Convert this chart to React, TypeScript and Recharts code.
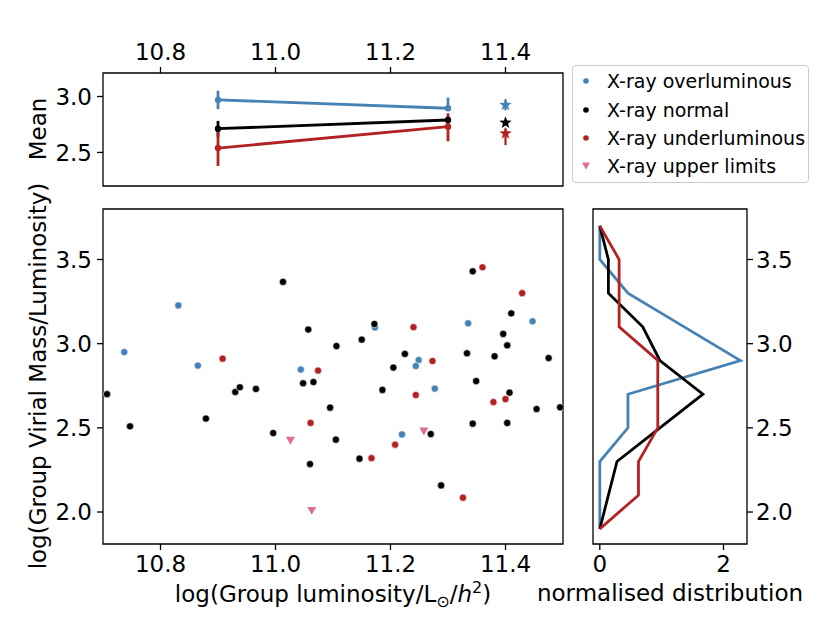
import { ScatterChart, Scatter, XAxis, YAxis, ErrorBar, ReferenceArea } from 'recharts';

const W = 830;
const H = 623;
const FONT = '"DejaVu Sans", sans-serif';

const BLUE = '#4682b4';
const BLACK = '#000000';
const RED = '#b22222';
const PINK = '#db7093';

// x axis (group luminosity) shared by top and main panels
const lumDomain = [10.7, 11.5];
const lumTicks = [10.8, 11.0, 11.2, 11.4];

// main scatter: log(virial mass / luminosity)
const mlDomain = [1.81, 3.8];
const mlTicks = [2.0, 2.5, 3.0, 3.5];

const overX = [10.737, 10.831, 10.865, 11.044, 11.173, 11.249, 11.244, 11.277, 11.22, 11.335, 11.447];
const overY = [2.95, 3.227, 2.87, 2.846, 3.096, 2.903, 2.867, 2.733, 2.461, 3.121, 3.133];

const normX = [
  10.707, 10.747, 10.879, 10.93, 10.938, 10.966, 10.996, 11.013, 11.057, 11.048, 11.066, 11.105,
  11.06, 11.106, 11.095, 11.172, 11.15, 11.186, 11.205, 11.225, 11.146, 11.27, 11.288, 11.343,
  11.41, 11.396, 11.403, 11.333, 11.381, 11.475, 11.349, 11.407, 11.454, 11.495, 11.343, 11.403,
];
const normY = [
  2.7, 2.509, 2.555, 2.713, 2.741, 2.731, 2.469, 3.367, 3.084, 2.765, 2.772, 2.43,
  2.285, 2.986, 2.62, 3.117, 3.024, 2.725, 2.858, 2.939, 2.317, 2.463, 2.158, 3.43,
  3.18, 3.058, 2.99, 2.943, 2.925, 2.915, 2.778, 2.709, 2.612, 2.622, 2.525, 2.529,
];

const underX = [10.908, 11.074, 11.061, 11.24, 11.273, 11.244, 11.167, 11.208, 11.326, 11.36, 11.429, 11.379, 11.4];
const underY = [2.911, 2.84, 2.529, 3.098, 2.897, 2.695, 2.32, 2.4, 2.085, 3.454, 3.3, 2.653, 2.671];

const limitX = [11.026, 11.063, 11.258];
const limitY = [2.426, 2.009, 2.481];

// top panel: binned means with error bars, and overall means (stars)
const meanDomain = [2.2, 3.21];
const meanTicks = [2.5, 3.0];
const meanX = [10.9, 11.3];
const overMean = [2.97, 2.895];
const overErr = [[0.083, 0.081], [0.025, 0.095]];
const normMean = [2.712, 2.79];
const normErr = [[0.07, 0.07], [0.03, 0.03]];
const underMean = [2.539, 2.73];
const underErr = [[0.16, 0.16], [0.13, 0.12]];

const starX = 11.4;
const starMean = [2.925, 2.766, 2.67];
const starErr = [[0.05, 0.05], [0.02, 0.02], [0.105, 0.045]];

// right panel: normalised distributions
const histBins = [3.7, 3.5, 3.3, 3.1, 2.9, 2.7, 2.5, 2.3, 2.1, 1.9];
const overHist = [0, 0, 0.455, 1.364, 2.273, 0.455, 0.455, 0, 0, 0];
const normHist = [0, 0.139, 0.139, 0.694, 0.972, 1.667, 0.972, 0.278, 0.139, 0];
const underHist = [0, 0.3125, 0.3125, 0.3125, 0.9375, 0.9375, 0.9375, 0.625, 0.625, 0];
const histDomain = [-0.11, 2.38];
const histTicks = [0, 2];

const toPoints = (xs: number[], ys: number[]) => xs.map((x, i) => ({ x, y: ys[i] }));
const toMeans = (ys: number[], errs: number[][]) => meanX.map((x, i) => ({ x, y: ys[i], err: errs[i] }));
const toHist = (ds: number[]) => histBins.map((y, i) => ({ x: ds[i], y }));

const legendItems = [
  { name: 'X-ray overluminous', color: BLUE, marker: 'dot' },
  { name: 'X-ray normal', color: BLACK, marker: 'dot' },
  { name: 'X-ray underluminous', color: RED, marker: 'dot' },
  { name: 'X-ray upper limits', color: PINK, marker: 'tri' },
];

const tick = { fill: '#000', fontSize: 23, fontFamily: FONT };
const tickLine = { stroke: '#000', strokeWidth: 1.3 };
const fmt = (v: number) => v.toFixed(1);

const dot = (color: string, r: number, edge?: boolean) => (p: any) =>
  p.cx == null ? <g /> : (
    <circle cx={p.cx} cy={p.cy} r={r} fill={color} stroke={edge ? '#fff' : 'none'} strokeWidth={0.6} />
  );

const triDown = (color: string) => (p: any) => {
  if (p.cx == null) return <g />;
  const s = 4.6;
  return (
    <path
      d={`M${p.cx - s},${p.cy - s * 0.75} L${p.cx + s},${p.cy - s * 0.75} L${p.cx},${p.cy + s * 0.95} Z`}
      fill={color}
    />
  );
};

const star = (color: string) => (p: any) => {
  if (p.cx == null) return <g />;
  const pts: string[] = [];
  for (let k = 0; k < 10; k++) {
    const r = k % 2 === 0 ? 6.5 : 2.7;
    const a = -Math.PI / 2 + (k * Math.PI) / 5;
    pts.push(`${p.cx + r * Math.cos(a)},${p.cy + r * Math.sin(a)}`);
  }
  return <polygon points={pts.join(' ')} fill={color} />;
};

const none = () => <g />;

const layer: React.CSSProperties = { position: 'absolute', left: 0, top: 0 };

function MeanPanel() {
  const groups = [
    { data: toMeans(overMean, overErr), color: BLUE },
    { data: toMeans(normMean, normErr), color: BLACK },
    { data: toMeans(underMean, underErr), color: RED },
  ];
  const stars = [BLUE, BLACK, RED].map((c, i) => ({ color: c, data: [{ x: starX, y: starMean[i], err: starErr[i] }] }));
  return (
    <div style={layer}>
      <ScatterChart width={W} height={H} margin={{ top: 33, right: 267, bottom: 437, left: 43 }}>
        <XAxis
          type="number" dataKey="x" orientation="top" domain={lumDomain} ticks={lumTicks}
          tickFormatter={fmt} allowDataOverflow height={40} axisLine={false}
          tick={tick} tickLine={tickLine} tickSize={6} tickMargin={7}
        />
        <YAxis
          type="number" dataKey="y" domain={meanDomain} ticks={meanTicks} tickFormatter={fmt}
          allowDataOverflow width={60} axisLine={false} tick={tick} tickLine={tickLine} tickSize={6} tickMargin={5}
        />
        <ReferenceArea x1={lumDomain[0]} x2={lumDomain[1]} y1={meanDomain[0]} y2={meanDomain[1]} fill="none" stroke="#000" strokeWidth={1.3} />
        {groups.map((g, i) => (
          <Scatter
            key={i} data={g.data} fill={g.color} line={{ stroke: g.color, strokeWidth: 2.8 }}
            shape={dot(g.color, 3.2)} isAnimationActive={false}
          >
            <ErrorBar dataKey="err" direction="y" width={0} stroke={g.color} strokeWidth={2.8} />
          </Scatter>
        ))}
        {stars.map((s, i) => (
          <Scatter key={`s${i}`} data={s.data} fill={s.color} shape={star(s.color)} isAnimationActive={false}>
            <ErrorBar dataKey="err" direction="y" width={0} stroke={s.color} strokeWidth={2.2} />
          </Scatter>
        ))}
      </ScatterChart>
    </div>
  );
}

function MainPanel() {
  return (
    <div style={layer}>
      <ScatterChart width={W} height={H} margin={{ top: 209, right: 267, bottom: 39, left: 43 }}>
        <XAxis
          type="number" dataKey="x" domain={lumDomain} ticks={lumTicks} tickFormatter={fmt}
          allowDataOverflow height={40} axisLine={false} tick={tick} tickLine={tickLine} tickSize={6} tickMargin={6}
        />
        <YAxis
          type="number" dataKey="y" domain={mlDomain} ticks={mlTicks} tickFormatter={fmt}
          allowDataOverflow width={60} axisLine={false} tick={tick} tickLine={tickLine} tickSize={6} tickMargin={5}
        />
        <ReferenceArea x1={lumDomain[0]} x2={lumDomain[1]} y1={mlDomain[0]} y2={mlDomain[1]} fill="none" stroke="#000" strokeWidth={1.3} />
        <Scatter data={toPoints(overX, overY)} fill={BLUE} shape={dot(BLUE, 3.6, true)} isAnimationActive={false} />
        <Scatter data={toPoints(normX, normY)} fill={BLACK} shape={dot(BLACK, 3.6, true)} isAnimationActive={false} />
        <Scatter data={toPoints(underX, underY)} fill={RED} shape={dot(RED, 3.6, true)} isAnimationActive={false} />
        <Scatter data={toPoints(limitX, limitY)} fill={PINK} shape={triDown(PINK)} isAnimationActive={false} />
      </ScatterChart>
    </div>
  );
}

function HistPanel() {
  const lines = [
    { data: toHist(overHist), color: BLUE },
    { data: toHist(normHist), color: BLACK },
    { data: toHist(underHist), color: RED },
  ];
  return (
    <div style={layer}>
      <ScatterChart width={W} height={H} margin={{ top: 209, right: 23, bottom: 39, left: 593 }}>
        <XAxis
          type="number" dataKey="x" domain={histDomain} ticks={histTicks} allowDataOverflow height={40}
          axisLine={false} tick={tick} tickLine={tickLine} tickSize={6} tickMargin={6}
        />
        <YAxis
          type="number" dataKey="y" orientation="right" domain={mlDomain} ticks={mlTicks} tickFormatter={fmt}
          allowDataOverflow width={60} axisLine={false} tick={tick} tickLine={tickLine} tickSize={6} tickMargin={3}
        />
        <ReferenceArea x1={histDomain[0]} x2={histDomain[1]} y1={mlDomain[0]} y2={mlDomain[1]} fill="none" stroke="#000" strokeWidth={1.3} />
        {lines.map((l, i) => (
          <Scatter
            key={i} data={l.data} line={{ stroke: l.color, strokeWidth: 2.8 }} shape={none}
            isAnimationActive={false}
          />
        ))}
      </ScatterChart>
    </div>
  );
}

function Legend() {
  return (
    <div
      style={{
        position: 'absolute', left: 572, top: 65, width: 237, height: 118, boxSizing: 'border-box',
        border: '1px solid #cccccc', borderRadius: 4, background: '#fff', paddingTop: 1,
        fontFamily: FONT, fontSize: 19, color: '#000',
      }}
    >
      {legendItems.map((it) => (
        <div key={it.name} style={{ display: 'flex', alignItems: 'center', height: 28.4 }}>
          <svg width={34} height={14} style={{ flex: 'none' }}>
            {it.marker === 'dot' ? (
              <circle cx={13} cy={7} r={2.8} fill={it.color} />
            ) : (
              <path d="M9,3.5 L17,3.5 L13,10.5 Z" fill={it.color} />
            )}
          </svg>
          <span style={{ whiteSpace: 'nowrap' }}>{it.name}</span>
        </div>
      ))}
    </div>
  );
}

function Titles() {
  const t = { fontFamily: FONT, fontSize: 23, fill: '#000' };
  return (
    <svg width={W} height={H} style={{ ...layer, pointerEvents: 'none' }}>
      <text {...t} x={0} y={0} textAnchor="middle" transform="translate(46,129) rotate(-90)">Mean</text>
      <text {...t} x={0} y={0} textAnchor="middle" transform="translate(46,376) rotate(-90)">
        log(Group Virial Mass/Luminosity)
      </text>
      <text {...t} x={333} y={602} textAnchor="middle">
        log(Group luminosity/L<tspan fontSize={16} dy={5}>⊙</tspan>
        <tspan dy={-5}>/</tspan>
        <tspan fontStyle="italic">h</tspan>
        <tspan fontSize={16} dy={-9}>2</tspan>
        <tspan dy={9}>)</tspan>
      </text>
      <text {...t} x={670} y={601} textAnchor="middle">normalised distribution</text>
    </svg>
  );
}

export default function App() {
  return (
    <div style={{ position: 'absolute', left: 0, top: 0, width: W, height: H, background: '#fff', overflow: 'hidden' }}>
      <MeanPanel />
      <MainPanel />
      <HistPanel />
      <Legend />
      <Titles />
    </div>
  );
}
